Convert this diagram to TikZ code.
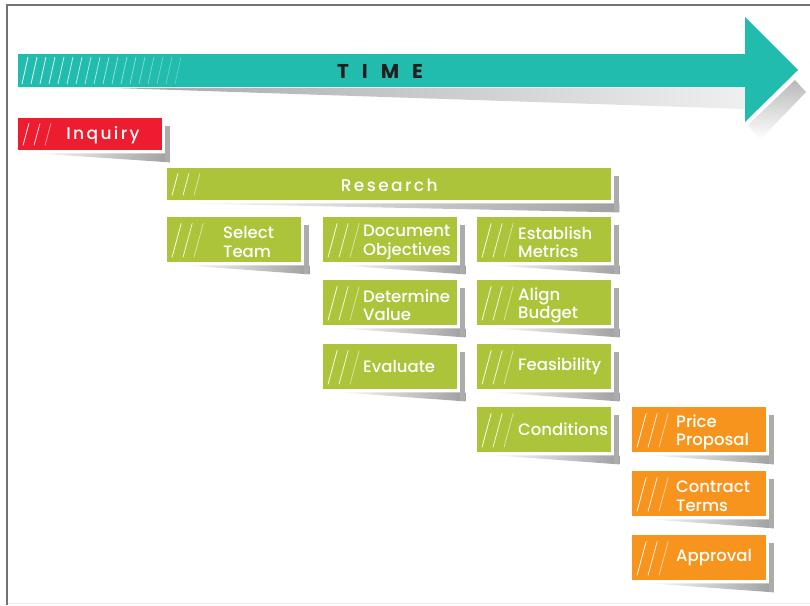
\documentclass[tikz,border=0pt]{standalone}
\usepackage{fontspec}
\setmainfont{Poppins Medium}
\newfontfamily\trackfont[LetterSpace=14]{Poppins Medium}
\newfontfamily\timefont{Poppins Bold}
\usetikzlibrary{calc}

\definecolor{timeteal}{HTML}{21BCAE}
\definecolor{timedark}{HTML}{231F20}
\definecolor{inqred}{HTML}{ED1C2E}
\definecolor{resgreen}{HTML}{ABC43A}
\definecolor{offorange}{HTML}{F7941E}

\tikzstyle{box} = [anchor=north west, minimum width=134pt, minimum height=45pt, inner sep=0pt]
\tikzstyle{gbox} = [box, fill=resgreen]
\tikzstyle{obox} = [box, fill=offorange]
\tikzstyle{btext} = [anchor=west, align=left, text=white, inner sep=0pt, font=\fontsize{16.5}{18.5}\selectfont]
\tikzstyle{btwo} = [btext, yshift=-2.5pt]
\tikzstyle{hatch} = [white, line width=0.8pt]

% shadow on the right and under a box
\newcommand{\boxshadow}[1]{%
  \shade[left color=gray!5, right color=gray!75] ([shift={(18,3)}]#1.south west) -- ([shift={(8,3)}]#1.south east) -- ([shift={(8,12)}]#1.south east) -- cycle;
  \fill[gray!65] ([shift={(3,8)}]#1.north east) rectangle ([shift={(8,12)}]#1.south east);}
% three slanted lines at the left end of a box
\newcommand{\boxhatch}[2]{%
  \foreach \dx/\op in {5/0.95,16/0.85,27/0.55}
    \draw[hatch, opacity=\op] ([shift={(\dx,-5)}]#1.south west) -- ++(#2*0.27,-#2);}

\begin{document}
\begin{tikzpicture}[x=1pt, y=-1pt]
\useasboundingbox (0,0) rectangle (810,605);
\draw[gray!90!black, line width=1.2pt] (7,605) -- (7,5) -- (810,5);
\draw[gray!15] (8,603) -- (810,603);

% time arrow
\shade[left color=gray!70, right color=gray!12] (115,88) -- (745,88) -- (745,109) -- cycle;
\shade[top color=gray!55, bottom color=white] (795,80) -- (806,92) -- (760,140) -- (748,125) -- cycle;
\fill[timeteal] (18,54) -- (745,54) -- (745,17) -- (798,70) -- (745,122) -- (745,87) -- (18,87) -- cycle;
\foreach \i in {0,...,17}
  \draw[hatch, opacity=0.95-\i*0.04] (22+\i*9,84) -- ++(6,-27);
\node[text=timedark, font=\timefont\fontsize{20}{20}\selectfont] (time) at (380,71) {T\hspace{13pt}I\hspace{13pt}M\hspace{13pt}E};

% boxes
\node[box, fill=inqred, minimum width=144pt, minimum height=32pt] (inquiry) at (18,118) {};
\node[box, fill=resgreen, minimum width=444pt, minimum height=32pt] (research) at (167,168) {};
\node[gbox] (team) at (167,217) {};
\node[gbox] (objectives) at (323,217) {};
\node[gbox] (metrics) at (477,217) {};
\node[gbox] (value) at (323,280) {};
\node[gbox] (budget) at (477,280) {};
\node[gbox] (evaluate) at (323,344) {};
\node[gbox] (feasibility) at (477,344) {};
\node[gbox] (conditions) at (477,407) {};
\node[obox] (price) at (632,407) {};
\node[obox] (contract) at (632,471) {};
\node[obox] (approval) at (632,535) {};

\foreach \b in {inquiry,research}
  {\boxshadow{\b} \boxhatch{\b}{22}}
\foreach \b in {team,objectives,metrics,value,budget,evaluate,feasibility,conditions,price,contract,approval}
  {\boxshadow{\b} \boxhatch{\b}{34}}

% labels
\node[text=white, font=\trackfont\fontsize{17}{18}\selectfont] (t-inquiry) at (103,135) {Inquiry};
\node[text=white, font=\trackfont\fontsize{17}{18}\selectfont] (t-research) at ([yshift=-1pt]research) {Research};
\node[btwo] (t-team) at ([xshift=56pt]team.west) {Select\\Team};
\node[btwo] (t-objectives) at ([xshift=40pt]objectives.west) {Document\\Objectives};
\node[btwo] (t-metrics) at ([xshift=41pt]metrics.west) {Establish\\Metrics};
\node[btwo] (t-value) at ([xshift=40pt]value.west) {Determine\\Value};
\node[btwo] (t-budget) at ([xshift=41pt]budget.west) {Align\\Budget};
\node[btext] (t-evaluate) at ([xshift=40pt]evaluate.west) {Evaluate};
\node[btext] (t-feasibility) at ([xshift=41pt]feasibility.west) {Feasibility};
\node[btext] (t-conditions) at ([xshift=41pt]conditions.west) {Conditions};
\node[btwo] (t-price) at ([xshift=44pt]price.west) {Price\\Proposal};
\node[btwo] (t-contract) at ([xshift=44pt]contract.west) {Contract\\Terms};
\node[btext] (t-approval) at ([xshift=44pt]approval.west) {Approval};
\end{tikzpicture}
\end{document}
